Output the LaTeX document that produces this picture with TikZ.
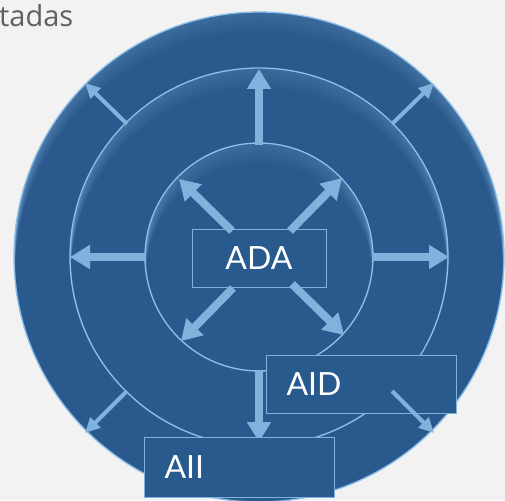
\documentclass[tikz,border=0pt]{standalone}
\usepackage{fontspec}
\setmainfont{Lato}
\newfontfamily\titlefont{Open Sans}
\usetikzlibrary{arrows.meta}
\definecolor{bgc}{HTML}{F2F2F2}
\definecolor{discblue}{HTML}{2A5A8D}
\definecolor{discedge}{HTML}{8DBFE8}
\definecolor{glowc}{HTML}{9CCAF2}
\definecolor{arrowblue}{HTML}{7FB3DD}
\definecolor{boxblue}{HTML}{285A8E}
\definecolor{greytext}{HTML}{606060}
\tikzset{
  disc/.style={circle, inner sep=0pt, draw=discedge, line width=1.3pt},
  labelbox/.style={draw=arrowblue, line width=1pt, fill=boxblue, text=white, font=\fontsize{32}{36}\selectfont, inner sep=0pt},
  thickarrow/.style={draw=arrowblue, line width=8pt, -{Triangle[width=23pt,length=20pt]}},
  thinarrow/.style={draw=arrowblue, line width=4pt, -{Triangle[width=14pt,length=15pt]}},
  glowline/.style={draw=glowc, line width=2.2pt},
}
\newcommand\glowdisc[1]{%
  \begin{scope}
    \clip (259,257) circle (#1pt);
    \fill[discblue] (259,257) circle (#1pt);
    \foreach \d in {0,1,...,22} {%
      \pgfmathsetmacro\op{0.075*(1-\d/23)}%
      \draw[glowline, opacity=\op] (259,{257+\d}) circle (#1pt);}
  \end{scope}}
\begin{document}
\begin{tikzpicture}[x=1pt,y=-1pt]
\fill[bgc] (0,0) rectangle (505,500);
\useasboundingbox (0,0) rectangle (505,500);
\node[anchor=base west, text=greytext, font=\titlefont\fontsize{29}{33}\selectfont, inner sep=0pt] (title) at (-1,27) {tadas};
% discs
\glowdisc{245}
\glowdisc{189}
\glowdisc{114}
\node[disc, minimum size=490pt] (outer) at (259,257) {};
\node[disc, minimum size=378pt] (middle) at (259,257) {};
\node[disc, minimum size=228pt] (inner) at (259,257) {};
% middle ring arrows
\coordinate (mN0) at (259,145); \coordinate (mN1) at (259,69);
\coordinate (mW0) at (146,257); \coordinate (mW1) at (70,257);
\coordinate (mE0) at (372,257); \coordinate (mE1) at (449,257);
\coordinate (mS0) at (259,370); \coordinate (mS1) at (259,442);
\draw[thickarrow] (mN0) -- (mN1);
\draw[thickarrow] (mW0) -- (mW1);
\draw[thickarrow] (mE0) -- (mE1);
\draw[thickarrow] (mS0) -- (mS1);
% outer ring arrows
\coordinate (oNW0) at (127,124); \coordinate (oNW1) at (85,83);
\coordinate (oNE0) at (392,124); \coordinate (oNE1) at (434,83);
\coordinate (oSW0) at (127,391); \coordinate (oSW1) at (85,433);
\coordinate (oSE0) at (392,391); \coordinate (oSE1) at (434,433);
\draw[thinarrow] (oNW0) -- (oNW1);
\draw[thinarrow] (oNE0) -- (oNE1);
\draw[thinarrow] (oSW0) -- (oSW1);
% ADA box
\node[labelbox, minimum width=134pt, minimum height=58pt] (ada) at (259,258) {ADA};
% inner arrows
\coordinate (iNW0) at (232,231); \coordinate (iNW1) at (179,179);
\coordinate (iNE0) at (290,231); \coordinate (iNE1) at (342,178);
\coordinate (iSW0) at (233,288); \coordinate (iSW1) at (181,341);
\coordinate (iSE0) at (292,284); \coordinate (iSE1) at (344,335);
\draw[thickarrow] (iNW0) -- (iNW1);
\draw[thickarrow] (iNE0) -- (iNE1);
\draw[thickarrow] (iSW0) -- (iSW1);
\draw[thickarrow] (iSE0) -- (iSE1);
% AID box
\node[labelbox, minimum width=190pt, minimum height=58pt, text width=150pt, align=left, anchor=north west] (aid) at (266,355) {AID};
\draw[thinarrow] (oSE0) -- (oSE1);
% AII box
\node[labelbox, minimum width=190pt, minimum height=60pt, text width=150pt, align=left, anchor=north west] (aii) at (144,437) {AII};
\end{tikzpicture}
\end{document}
